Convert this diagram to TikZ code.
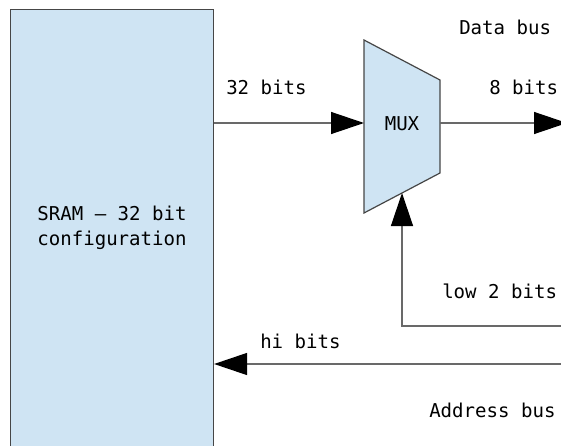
\documentclass[tikz,border=0pt]{standalone}
\usepackage{fontspec}
\setmonofont{DejaVu Sans Mono}
\usetikzlibrary{arrows.meta}
\definecolor{blockfill}{RGB}{207,228,243}
\definecolor{edge}{RGB}{70,70,70}
\definecolor{wire}{RGB}{105,105,105}
\begin{document}
\begin{tikzpicture}[x=0.75pt,y=-0.75pt,
  every node/.style={font=\ttfamily\fontsize{14.3pt}{18.75pt}\selectfont, inner sep=0pt},
  block/.style={draw=edge, fill=blockfill, line width=0.9pt},
  wireline/.style={draw=wire, line width=1pt},
  bigarrow/.style={-{Triangle[length=24.75pt,width=16.5pt,color=black]}},
  lbl/.style={anchor=base west}]
\useasboundingbox (0,0) rectangle (561,446);

% memory block
\node[block, minimum width=152.25pt, minimum height=327.75pt, align=center]
  (sram) at (112,228) {SRAM – 32 bit\\configuration};

% multiplexer outline
\coordinate (m1) at (364,40);
\coordinate (m2) at (440,80);
\coordinate (m3) at (440,173);
\coordinate (m4) at (364,213);
\draw[block, line join=miter] (m1) -- (m2) -- (m3) -- (m4) -- cycle;
\node (mux) at (402,124) {MUX};

% connection points
\coordinate (muxin) at (364,123);
\coordinate (muxout) at (440,123);
\coordinate (muxsel) at (402,193);
\coordinate (dataend) at (567,123);
\coordinate (lowsrc) at (562,326);
\coordinate (lowbend) at (402,326);
\coordinate (hisrc) at (562,364);

% wires
\draw[wireline, bigarrow] (muxin -| sram.east) -- (muxin);
\draw[wireline, bigarrow] (muxout) -- (dataend);
\draw[wireline, bigarrow] (lowsrc) -- (lowbend) -- (muxsel);
\draw[wireline, bigarrow] (hisrc) -- (hisrc -| sram.east);

% labels
\node[lbl] (ldata) at (459,34) {Data bus};
\node[lbl] (l32) at (226,94) {32 bits};
\node[lbl] (l8) at (489,94) {8 bits};
\node[lbl] (llow) at (442,298) {low 2 bits};
\node[lbl] (lhi) at (260,348) {hi bits};
\node[lbl] (laddr) at (429,417) {Address bus};
\end{tikzpicture}
\end{document}
